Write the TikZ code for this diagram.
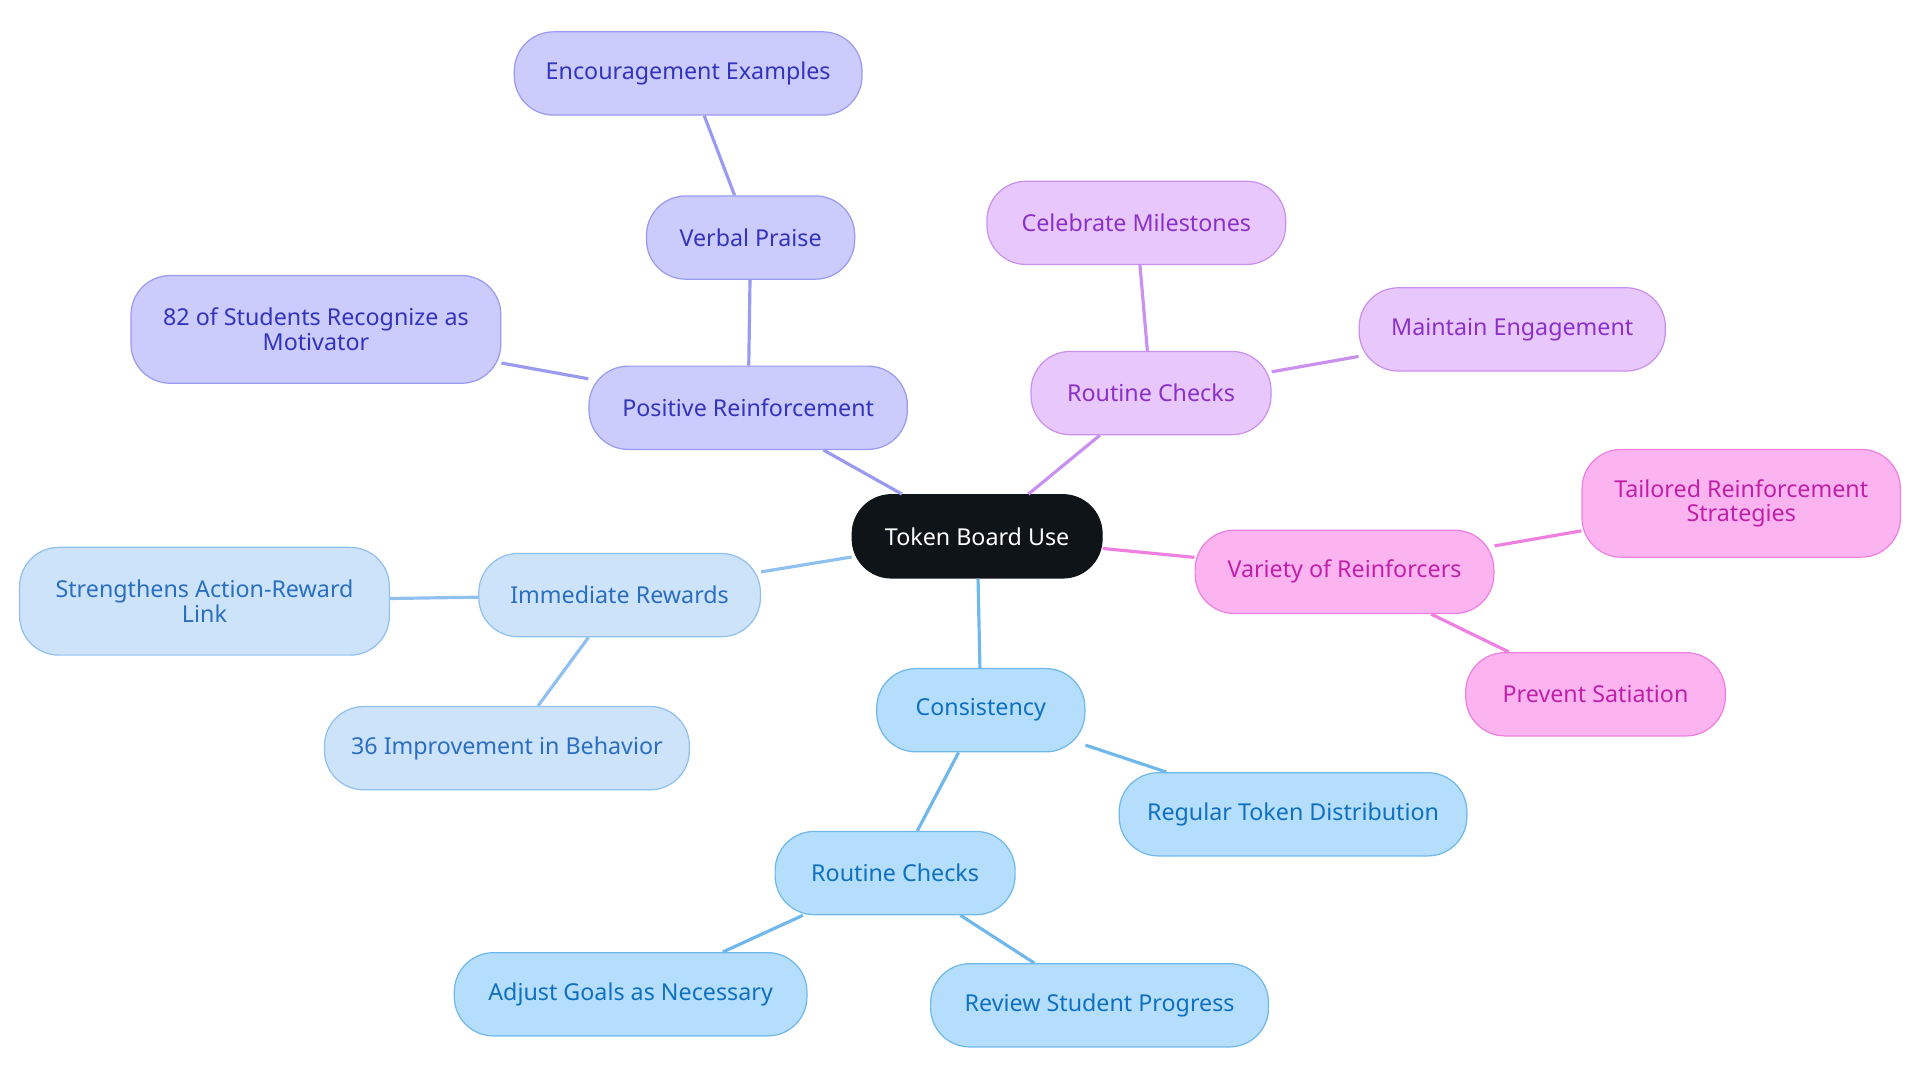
\documentclass[tikz,border=0pt]{standalone}
\usepackage{fontspec}
\setmainfont{Noto Sans}
\definecolor{pf}{HTML}{CBCBFC}\definecolor{pd}{HTML}{9A9AF0}\definecolor{pt}{HTML}{3333BB}
\definecolor{vf}{HTML}{E8C8FC}\definecolor{vd}{HTML}{C990F0}\definecolor{vt}{HTML}{8A30C8}
\definecolor{kf}{HTML}{FCB4F0}\definecolor{kd}{HTML}{F080E0}\definecolor{kt}{HTML}{C020A8}
\definecolor{lf}{HTML}{CDE3FA}\definecolor{ld}{HTML}{90C0F0}\definecolor{lt}{HTML}{2A6EC0}
\definecolor{bf}{HTML}{B4DEFC}\definecolor{bd}{HTML}{70B8EC}\definecolor{bt}{HTML}{1070C0}
\definecolor{rootc}{HTML}{0F1419}
\begin{document}
\begin{tikzpicture}[x=0.5pt,y=-0.5pt,
 nd/.style={rounded corners=16pt,minimum height=34pt,align=center,font=\fontsize{9.5}{10}\selectfont,inner sep=2pt,line width=0.5pt},
 P/.style={nd,fill=pf,draw=pd,text=pt},V/.style={nd,fill=vf,draw=vd,text=vt},
 K/.style={nd,fill=kf,draw=kd,text=kt},L/.style={nd,fill=lf,draw=ld,text=lt},
 B/.style={nd,fill=bf,draw=bd,text=bt},
 e/.style={line width=1.3pt}]
\useasboundingbox (0,0) rectangle (1568,884);
\node[nd,fill=rootc,draw=rootc,text=white,minimum width=102pt] (root) at (798,438) {Token Board Use};
\node[P,minimum width=130pt] (pr) at (611,333) {Positive Reinforcement};
\node[P,minimum width=85pt] (vp) at (613,194) {Verbal Praise};
\node[P,minimum width=142pt] (ee) at (562,60) {Encouragement Examples};
\node[P,minimum width=151pt,minimum height=44pt] (s82) at (258,269) {82 of Students Recognize as\\Motivator};
\node[V,minimum width=98pt] (rc1) at (940,321) {Routine Checks};
\node[V,minimum width=122pt] (cm) at (928,182) {Celebrate Milestones};
\node[V,minimum width=125pt] (me) at (1235,269) {Maintain Engagement};
\node[K,minimum width=122pt] (vr) at (1098,467) {Variety of Reinforcers};
\node[K,minimum width=130pt,minimum height=44pt] (tr) at (1422,411) {Tailored Reinforcement\\Strategies};
\node[K,minimum width=106pt] (ps) at (1303,567) {Prevent Satiation};
\node[L,minimum width=115pt] (ir) at (506,486) {Immediate Rewards};
\node[L,minimum width=151pt,minimum height=44pt] (sa) at (167,491) {Strengthens Action-Reward\\Link};
\node[L,minimum width=149pt] (i36) at (414,611) {36 Improvement in Behavior};
\node[B,minimum width=85pt] (co) at (801,580) {Consistency};
\node[B,minimum width=142pt] (rt) at (1056,665) {Regular Token Distribution};
\node[B,minimum width=98pt] (rc2) at (731,713) {Routine Checks};
\node[B,minimum width=144pt] (ag) at (515,812) {Adjust Goals as Necessary};
\node[B,minimum width=138pt] (rs) at (898,821) {Review Student Progress};
\draw[e,pd] (root)--(pr); \draw[e,pd] (pr)--(vp); \draw[e,pd] (vp)--(ee); \draw[e,pd] (pr)--(s82);
\draw[e,vd] (root)--(rc1); \draw[e,vd] (rc1)--(cm); \draw[e,vd] (rc1)--(me);
\draw[e,kd] (root)--(vr); \draw[e,kd] (vr)--(tr); \draw[e,kd] (vr)--(ps);
\draw[e,ld] (root)--(ir); \draw[e,ld] (ir)--(sa); \draw[e,ld] (ir)--(i36);
\draw[e,bd] (root)--(co); \draw[e,bd] (co)--(rt); \draw[e,bd] (co)--(rc2); \draw[e,bd] (rc2)--(ag); \draw[e,bd] (rc2)--(rs);
\end{tikzpicture}
\end{document}
